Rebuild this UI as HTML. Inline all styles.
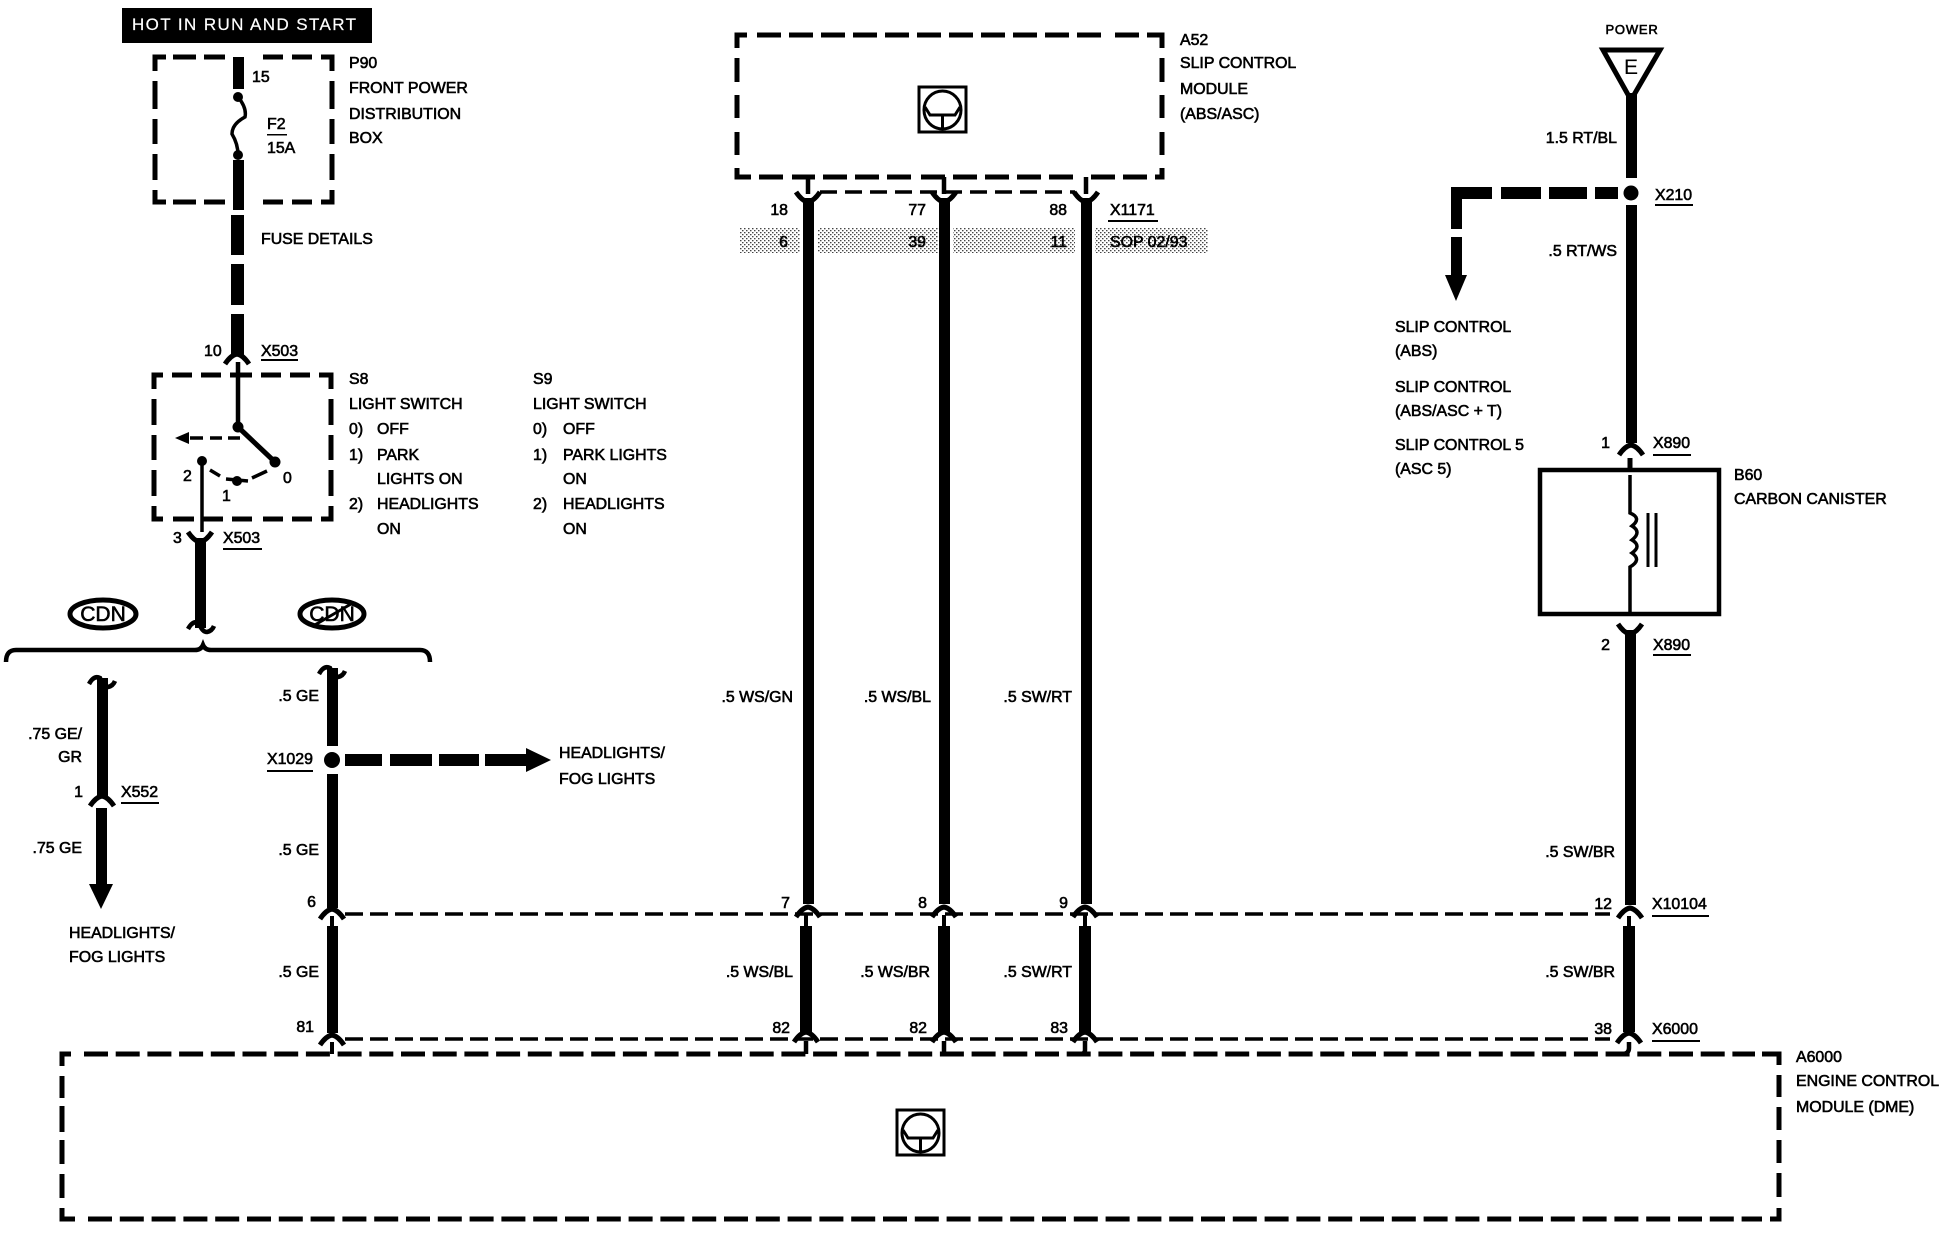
<!DOCTYPE html>
<html><head><meta charset="utf-8"><style>
html,body{margin:0;padding:0;background:#fff}
svg{display:block}
text{font-family:"Liberation Sans",sans-serif;font-size:15.900px;fill:#000;stroke:#000;stroke-width:.6;transform:translate(0,-1px)}
.r{text-anchor:end}
.k{fill:none;stroke:#000}
</style></head><body>
<svg width="1944" height="1248" viewBox="0 0 1944 1248" xmlns="http://www.w3.org/2000/svg">
<defs>
<pattern id="st" width="4" height="4" patternUnits="userSpaceOnUse"><rect width="4" height="4" fill="#fff"/><rect x="0" y="0" width="1.500" height="1.300" fill="#444"/><rect x="2" y="2" width="1.500" height="1.300" fill="#444"/></pattern>
<path id="arch" d="M-12,6 Q-6,-3 0,-4 Q6,-3 12,6" fill="none" stroke="#000" stroke-width="5"/>
<path id="cup" d="M-12,-6 Q-6,3 0,4 Q6,3 12,-6" fill="none" stroke="#000" stroke-width="5"/>
<path id="sq" d="M-13,3 Q-8,-6 -2,-3 Q1,6 6,6 Q11,5 13,0" fill="none" stroke="#000" stroke-width="4.500"/>
<g id="icon" fill="none" stroke="#000"><rect x="0" y="0" width="47" height="45" stroke-width="3"/><ellipse cx="23.500" cy="23" rx="18.500" ry="19" stroke-width="3"/><path d="M6,20 L11,28 L36,28 L41,20 M23.500,28 V41" stroke-width="3"/></g>
</defs>
<rect width="1944" height="1248" fill="#fff"/>

<!-- banner -->
<rect x="122" y="8" width="250" height="35" fill="#000"/>
<text x="132" y="31" style="font-size:17px;letter-spacing:1.400px;fill:#fff;stroke:#fff;stroke-width:.2">HOT IN RUN AND START</text>

<!-- P90 box -->
<path class="k" d="M155,71 V57 H166 M173,57 H196 M204,57 H225 M263,57 H283 M292,57 H312 M321,57 H332 V71 M155,81 V109 M155,119 V144 M155,154 V180 M155,190 V202 H166 M173,202 H196 M204,202 H225 M263,202 H283 M292,202 H312 M321,202 H332 V190 M332,81 V109 M332,119 V144 M332,154 V180" stroke-width="5"/>
<!-- S8 box -->
<path class="k" d="M154,389 V375 H163 M172,375 H192 M201,375 H221 M230,375 H252 M261,375 H281 M290,375 H310 M319,375 H331 V389 M154,399 V425 M154,435 V460 M154,470 V496 M154,506 V519 H163 M173,519 H194 M203,519 H223 M232,519 H252 M263,519 H283 M292,519 H312 M321,519 H331 V506 M331,399 V425 M331,435 V460 M331,470 V496" stroke-width="5"/>

<!-- fuse wire -->
<rect x="233" y="57" width="11" height="32" fill="#000"/>
<circle cx="238" cy="97" r="5"/>
<path class="k" d="M238,97 Q247,108 245,117 Q232,124 232,134 Q238,144 238,155" stroke-width="3.500"/>
<circle cx="238" cy="155" r="5"/>
<rect x="233" y="160" width="11" height="50" fill="#000"/>
<rect x="231" y="215" width="13" height="40" fill="#000"/>
<rect x="231" y="264" width="13" height="41" fill="#000"/>
<rect x="231" y="314" width="13" height="42" fill="#000"/>
<use href="#arch" x="237" y="358"/>
<path class="k" d="M238,362 V427" stroke-width="4.500"/>
<!-- switch -->
<circle cx="238" cy="427" r="5.500"/>
<path class="k" d="M238,427 L275,462" stroke-width="5"/>
<circle cx="275" cy="462" r="5.500"/>
<path class="k" d="M240,438 H228 M222,438 H210 M203,438 H190" stroke-width="3.500"/>
<path d="M175,438 L189,432 V444 Z"/>
<circle cx="202" cy="461" r="5"/>
<circle cx="237" cy="481" r="5"/>
<path class="k" d="M210,470 L220,476 M226,479 L248,481 M252,478 L267,471" stroke-width="3.500"/>
<path class="k" d="M202,461 V532" stroke-width="3.500"/>
<use href="#cup" x="200" y="538"/>
<rect x="195" y="538" width="11" height="90" fill="#000"/>

<!-- CDN -->
<ellipse class="k" cx="103" cy="614" rx="33" ry="14" stroke-width="5"/>
<ellipse class="k" cx="332" cy="614" rx="32" ry="14" stroke-width="5"/>
<text x="103" y="622" text-anchor="middle" style="font-size:21px">CDN</text>
<text x="332" y="622" text-anchor="middle" style="font-size:21px">CDN</text>
<path class="k" d="M313,626 L351,604" stroke-width="3"/>

<!-- brace -->
<path class="k" d="M6,662 Q6,650 16,650 L195,650 Q201,650 203,645 Q205,650 211,650 L420,650 Q430,650 430,662" stroke-width="4.500"/>
<use href="#sq" x="201" y="626"/>

<!-- left wire -->
<use href="#sq" x="102" y="681"/>
<rect x="97" y="678" width="11" height="120" fill="#000"/>
<use href="#arch" x="102" y="800"/>
<rect x="96" y="808" width="11" height="78" fill="#000"/>
<path d="M89,884 H113 L101,909 Z"/>

<!-- second wire -->
<use href="#sq" x="332" y="671"/>
<rect x="327" y="668" width="11" height="78" fill="#000"/>
<circle cx="332" cy="760" r="8"/>
<rect x="327" y="774" width="11" height="134" fill="#000"/>
<path d="M345,754 H382 V766 H345 Z M390,754 H432 V766 H390 Z M439,754 H479 V766 H439 Z M485,754 H526 V748 L551,760 L526,772 V766 H485 Z"/>

<!-- horizontal dashed -->
<path class="k" d="M345,914 H1610" stroke-width="3.500" stroke-dasharray="18 7"/>
<path class="k" d="M345,1039 H1610" stroke-width="3.500" stroke-dasharray="18 7"/>

<!-- lower stage wire 2 -->
<use href="#arch" x="332" y="913"/>
<path class="k" d="M332,916 V928" stroke-width="4"/>
<rect x="327" y="926" width="11" height="107" fill="#000"/>
<use href="#arch" x="332" y="1039"/>
<path class="k" d="M332,1042 V1054" stroke-width="4"/>

<!-- A52 box -->
<path class="k" d="M737,48 V35 H747 M757,35 H781 M789,35 H813 M821,35 H845 M853,35 H877 M885,35 H909 M917,35 H941 M949,35 H973 M981,35 H1005 M1013,35 H1037 M1045,35 H1069 M1077,35 H1101 M1115,35 H1139 M1147,35 H1162 V48 M737,58 V82 M737,95 V118 M737,132 V155 M737,168 V177 H751 M759,177 H783 M792,177 H815 M823,177 H847 M855,177 H879 M887,177 H911 M921,177 H945 M953,177 H977 M985,177 H1009 M1017,177 H1041 M1049,177 H1073 M1091,177 H1115 M1123,177 H1147 M1155,177 H1162 V168 M1162,58 V82 M1162,95 V118 M1162,132 V155" stroke-width="5"/>
<use href="#icon" x="919" y="87"/>
<use href="#icon" x="897" y="1110"/>
<path class="k" d="M820,192 H1075" stroke-width="3.500" stroke-dasharray="17 8"/>

<!-- stipple -->
<rect x="740" y="228" width="60" height="25" fill="url(#st)"/>
<rect x="818" y="228" width="120" height="25" fill="url(#st)"/>
<rect x="953" y="228" width="122" height="25" fill="url(#st)"/>
<rect x="1095" y="228" width="113" height="25" fill="url(#st)"/>

<!-- three wires -->
<path class="k" d="M808,177 V194 M944,177 V194 M1086,177 V194" stroke-width="4.500"/>
<use href="#cup" x="808" y="198"/><use href="#cup" x="944" y="198"/><use href="#cup" x="1086" y="198"/>
<rect x="803" y="198" width="11" height="706" fill="#000"/>
<rect x="939" y="198" width="11" height="706" fill="#000"/>
<rect x="1081" y="198" width="11" height="706" fill="#000"/>
<use href="#arch" x="808" y="911"/><use href="#arch" x="944" y="911"/><use href="#arch" x="1085" y="911"/>
<path class="k" d="M806,915 V928 M944,915 V928 M1085,915 V928" stroke-width="4"/>
<rect x="800" y="926" width="12" height="106" fill="#000"/>
<rect x="938" y="926" width="12" height="106" fill="#000"/>
<rect x="1079" y="926" width="12" height="106" fill="#000"/>
<use href="#arch" x="806" y="1036"/><use href="#arch" x="944" y="1036"/><use href="#arch" x="1085" y="1036"/>
<path class="k" d="M806,1041 V1054 M944,1041 V1054 M1085,1041 V1050 Q1085,1054 1080,1054" stroke-width="4.500"/>

<!-- A6000 box -->
<path class="k" d="M62,1066 V1054 H71 M62,1076 V1098 M62,1106 V1132 M62,1140 V1164 M62,1174 V1198 M62,1208 V1219 H75 M1762,1054 H1779 V1065 M1779,1075 V1097 M1779,1107 V1130 M1779,1140 V1163 M1779,1173 V1197 M1779,1208 V1219 H1770" stroke-width="5"/>
<path class="k" d="M84,1054 H1755" stroke-width="5" stroke-dasharray="24 7.700"/>
<path class="k" d="M88,1219 H1762" stroke-width="5" stroke-dasharray="24 7.800"/>

<!-- right wire -->
<path d="M1603,50 H1660 L1631,100 Z" fill="#fff" stroke="#000" stroke-width="5"/>
<text x="1631" y="75" text-anchor="middle" style="font-size:21px;stroke-width:.1">E</text>
<rect x="1626" y="93" width="11" height="85" fill="#000"/>
<circle cx="1631" cy="193" r="7.500"/>
<rect x="1626" y="205" width="11" height="238" fill="#000"/>
<use href="#arch" x="1631" y="449"/>
<path class="k" d="M1630,458 V470" stroke-width="5"/>
<path d="M1451,187 H1492 V199 H1462 V229 H1451 Z M1501,187 H1541 V199 H1501 Z M1549,187 H1587 V199 H1549 Z M1595,187 H1618 V199 H1595 Z M1451,237 H1462 V275 H1467 L1456,301 L1445,275 H1451 Z"/>
<rect x="1540" y="470" width="179" height="144" fill="none" stroke="#000" stroke-width="4.500"/>
<path class="k" d="M1630,475 V513 Q1642,518 1632,526 Q1642,532 1632,540 Q1642,546 1632,553 Q1642,560 1630,567 V612" stroke-width="3.500"/>
<path class="k" d="M1648,513 V567 M1656,513 V567" stroke-width="3"/>
<use href="#cup" x="1630" y="630"/>
<rect x="1625" y="630" width="11" height="275" fill="#000"/>
<use href="#arch" x="1630" y="912"/>
<path class="k" d="M1629,916 V928" stroke-width="4"/>
<rect x="1623" y="926" width="12" height="106" fill="#000"/>
<use href="#arch" x="1629" y="1037"/>
<path class="k" d="M1629,1042 V1048 Q1629,1054 1622,1054" stroke-width="4.500"/>

<!-- underlines -->
<g fill="#000">
<rect x="267" y="134" width="20" height="1.500"/>
<rect x="261" y="359" width="37" height="2"/>
<rect x="223" y="548" width="39" height="2"/>
<rect x="121" y="802" width="38" height="2"/>
<rect x="267" y="770" width="46" height="2"/>
<rect x="1108" y="220" width="50" height="2"/>
<rect x="1655" y="204" width="38" height="2"/>
<rect x="1653" y="454" width="38" height="2"/>
<rect x="1653" y="654" width="38" height="2"/>
<rect x="1652" y="915" width="57" height="2"/>
<rect x="1652" y="1040" width="48" height="2"/>
</g>

<!-- labels -->
<text x="349" y="69">P90</text>
<text x="349" y="94">FRONT POWER</text>
<text x="349" y="120">DISTRIBUTION</text>
<text x="349" y="144">BOX</text>
<text x="252" y="83">15</text>
<text x="267" y="130">F2</text>
<text x="267" y="154">15A</text>
<text x="261" y="245">FUSE DETAILS</text>
<text x="204" y="357">10</text>
<text x="261" y="357">X503</text>
<text x="349" y="385">S8</text>
<text x="349" y="410">LIGHT SWITCH</text>
<text x="349" y="435">0)</text><text x="377" y="435">OFF</text>
<text x="349" y="461">1)</text><text x="377" y="461">PARK</text>
<text x="377" y="485">LIGHTS ON</text>
<text x="349" y="510">2)</text><text x="377" y="510">HEADLIGHTS</text>
<text x="377" y="535">ON</text>
<text x="533" y="385">S9</text>
<text x="533" y="410">LIGHT SWITCH</text>
<text x="533" y="435">0)</text><text x="563" y="435">OFF</text>
<text x="533" y="461">1)</text><text x="563" y="461">PARK LIGHTS</text>
<text x="563" y="485">ON</text>
<text x="533" y="510">2)</text><text x="563" y="510">HEADLIGHTS</text>
<text x="563" y="535">ON</text>
<text x="183" y="482">2</text>
<text x="283" y="484">0</text>
<text x="222" y="502">1</text>
<text x="173" y="544">3</text>
<text x="223" y="544">X503</text>
<text class="r" x="82" y="740">.75 GE/</text>
<text class="r" x="82" y="763">GR</text>
<text class="r" x="83" y="798">1</text>
<text x="121" y="798">X552</text>
<text class="r" x="82" y="854">.75 GE</text>
<text x="69" y="939">HEADLIGHTS/</text>
<text x="69" y="963">FOG LIGHTS</text>
<text class="r" x="319" y="702">.5 GE</text>
<text x="267" y="765">X1029</text>
<text class="r" x="319" y="856">.5 GE</text>
<text class="r" x="316" y="908">6</text>
<text class="r" x="319" y="978">.5 GE</text>
<text class="r" x="314" y="1033">81</text>
<text x="559" y="759">HEADLIGHTS/</text>
<text x="559" y="785">FOG LIGHTS</text>

<text x="1180" y="46">A52</text>
<text x="1180" y="69">SLIP CONTROL</text>
<text x="1180" y="95">MODULE</text>
<text x="1180" y="120">(ABS/ASC)</text>
<text class="r" x="788" y="216">18</text>
<text class="r" x="926" y="216">77</text>
<text class="r" x="1067" y="216">88</text>
<text x="1110" y="216">X1171</text>
<text class="r" x="788" y="248">6</text>
<text class="r" x="926" y="248">39</text>
<text class="r" x="1067" y="248">11</text>
<text x="1110" y="248">SOP 02/93</text>
<text class="r" x="793" y="703">.5 WS/GN</text>
<text class="r" x="931" y="703">.5 WS/BL</text>
<text class="r" x="1072" y="703">.5 SW/RT</text>
<text class="r" x="790" y="909">7</text>
<text class="r" x="927" y="909">8</text>
<text class="r" x="1068" y="909">9</text>
<text class="r" x="793" y="978">.5 WS/BL</text>
<text class="r" x="930" y="978">.5 WS/BR</text>
<text class="r" x="1072" y="978">.5 SW/RT</text>
<text class="r" x="790" y="1034">82</text>
<text class="r" x="927" y="1034">82</text>
<text class="r" x="1068" y="1034">83</text>

<text x="1632" y="35" text-anchor="middle" style="font-size:13px;letter-spacing:.8px">POWER</text>
<text class="r" x="1617" y="144">1.5 RT/BL</text>
<text x="1655" y="201">X210</text>
<text class="r" x="1617" y="257">.5 RT/WS</text>
<text x="1395" y="333">SLIP CONTROL</text>
<text x="1395" y="357">(ABS)</text>
<text x="1395" y="393">SLIP CONTROL</text>
<text x="1395" y="417">(ABS/ASC + T)</text>
<text x="1395" y="451">SLIP CONTROL 5</text>
<text x="1395" y="475">(ASC 5)</text>
<text class="r" x="1610" y="449">1</text>
<text x="1653" y="449">X890</text>
<text x="1734" y="481">B60</text>
<text x="1734" y="505">CARBON CANISTER</text>
<text class="r" x="1610" y="651">2</text>
<text x="1653" y="651">X890</text>
<text class="r" x="1615" y="858">.5 SW/BR</text>
<text class="r" x="1612" y="910">12</text>
<text x="1652" y="910">X10104</text>
<text class="r" x="1615" y="978">.5 SW/BR</text>
<text class="r" x="1612" y="1035">38</text>
<text x="1652" y="1035">X6000</text>
<text x="1796" y="1063">A6000</text>
<text x="1796" y="1087">ENGINE CONTROL</text>
<text x="1796" y="1113">MODULE (DME)</text>
</svg>
</body></html>
